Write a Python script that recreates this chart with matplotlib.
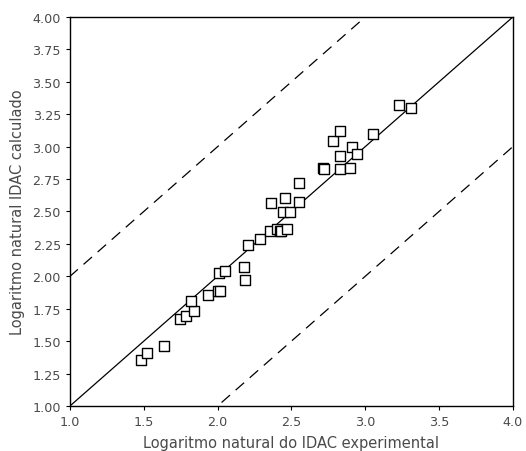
import numpy as np
import matplotlib.pyplot as plt

plt.rcParams['font.family'] = ['DejaVu Sans']

# ln IDAC experimental vs calculado
ln_exp = [1.483, 1.523, 1.635, 1.747, 1.786, 1.838, 1.817, 1.932, 2.000, 2.018,
          2.011, 2.052, 2.176, 2.187, 2.205, 2.290, 2.354, 2.359, 2.400, 2.424,
          2.429, 2.472, 2.442, 2.488, 2.458, 2.549, 2.549, 2.716, 2.721, 2.830,
          2.896, 2.830, 2.910, 2.944, 2.779, 2.828, 3.050, 3.230, 3.307]
ln_calc = [1.357, 1.406, 1.460, 1.669, 1.696, 1.733, 1.807, 1.854, 1.889, 1.889,
           2.028, 2.043, 2.072, 1.972, 2.238, 2.286, 2.352, 2.568, 2.365, 2.352,
           2.347, 2.365, 2.496, 2.496, 2.602, 2.573, 2.720, 2.835, 2.831, 2.830,
           2.833, 2.930, 2.995, 2.943, 3.044, 3.118, 3.098, 3.321, 3.298]

fig = plt.figure(figsize=(5.26, 4.52), dpi=100)
ax = fig.add_axes([0.133, 0.0996, 0.842, 0.8606])

line = np.array([0.0, 5.0])
ax.plot(line, line, color='black', lw=0.9)
ax.plot(line, line + 1, color='black', lw=0.9, dashes=(9, 6))
ax.plot(line, line - 1, color='black', lw=0.9, dashes=(9, 6))

ax.scatter(ln_exp, ln_calc, marker='s', s=50, facecolors='white',
           edgecolors='black', linewidths=1.0, zorder=3)

ax.set_xlim(1.0, 4.0)
ax.set_ylim(1.0, 4.0)
ax.set_xticks(np.arange(1.0, 4.01, 0.5))
ax.set_yticks(np.arange(1.0, 4.01, 0.25))
ax.xaxis.set_major_formatter(plt.FormatStrFormatter('%.1f'))
ax.yaxis.set_major_formatter(plt.FormatStrFormatter('%.2f'))
ax.tick_params(direction='out', length=3, width=0.8, labelsize=9.2,
               labelcolor='#4a4a4a', pad=3.5)
for s in ax.spines.values():
    s.set_linewidth(1.0)

ax.set_xlabel('Logaritmo natural do IDAC experimental', fontsize=10.5,
              color='#4a4a4a', labelpad=5)
ax.set_ylabel('Logaritmo natural IDAC calculado', fontsize=10.5,
              color='#4a4a4a', labelpad=5)

fig.savefig('out.png', dpi=100)
